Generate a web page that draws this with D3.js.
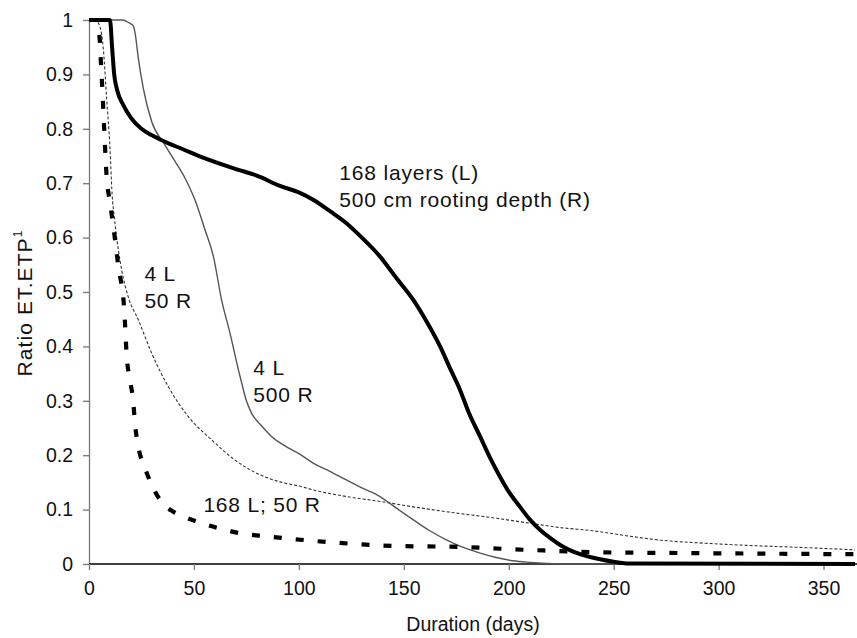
<!DOCTYPE html>
<html>
<head>
<meta charset="utf-8">
<script src="https://cdn.jsdelivr.net/npm/d3@7/dist/d3.min.js"></script>
<style>
  html, body { margin: 0; padding: 0; background: #fff; }
  svg { display: block; font-family: "Liberation Sans", Arial, sans-serif; }
</style>
</head>
<body>
<svg id="chart" width="857" height="638"></svg>
<script>
// ---- data ----
const xTicks = [0, 50, 100, 150, 200, 250, 300, 350];
const yTicks = [0, 0.1, 0.2, 0.3, 0.4, 0.5, 0.6, 0.7, 0.8, 0.9, 1];

// 168 layers (L), 500 cm rooting depth (R)
const series168L500R = [[0,1],[10,1],[11,0.95],[12,0.90],[13.5,0.87],[16.3,0.844],[20,0.82],[25,0.80],[30,0.788],[34.6,0.779],[45,0.762],[55,0.746],[70,0.726],[80,0.714],[91,0.695],[100,0.683],[107,0.669],[115,0.648],[122.8,0.626],[130,0.60],[138.7,0.565],[146,0.528],[154.6,0.485],[161,0.445],[167.3,0.40],[172,0.36],[176.8,0.32],[181,0.278],[186.4,0.234],[191,0.196],[195.9,0.160],[200,0.133],[205.4,0.105],[210,0.082],[215,0.0625],[220,0.047],[224.5,0.035],[234,0.018],[243.6,0.0086],[250,0.004],[256,0.001],[365,0]];
// 4 L, 500 R
const series4L500R = [[0,1],[16,1],[19,0.995],[21,0.99],[22,0.975],[23.5,0.93],[25.9,0.874],[29.9,0.813],[36.2,0.770],[41,0.74],[45.8,0.709],[50.5,0.669],[55.3,0.614],[59.3,0.565],[63.2,0.485],[67.2,0.424],[71.2,0.357],[72.8,0.332],[75,0.30],[77.5,0.277],[82,0.255],[87.1,0.234],[93,0.218],[100,0.203],[107,0.185],[115,0.17],[122.8,0.154],[130,0.14],[138.7,0.124],[146,0.104],[154.6,0.081],[162,0.062],[170.5,0.044],[178,0.031],[186.4,0.020],[194,0.012],[202,0.006],[210,0.003],[218,0.001],[225,0],[365,0]];
// 4 L, 50 R
const series4L50R = [[0,1],[3,1],[5.2,0.988],[6.8,0.948],[8.4,0.856],[10,0.764],[11,0.68],[12,0.64],[14,0.577],[15.6,0.54],[18.7,0.491],[23.5,0.449],[29.9,0.387],[37.8,0.326],[47.3,0.271],[58.5,0.228],[69.6,0.191],[83.9,0.16],[91,0.151],[101.4,0.142],[107,0.136],[122.8,0.124],[138.7,0.115],[154.6,0.105],[170.5,0.096],[194.3,0.084],[210,0.075],[224.5,0.067],[240,0.061],[256,0.052],[272,0.044],[294.4,0.038],[315,0.034],[335.7,0.031],[365,0.026]];
// 168 L, 50 R
const series168L50R = [[0,1],[3,1],[4.5,0.98],[5.2,0.96],[5.7,0.92],[6.3,0.877],[7.3,0.795],[8.4,0.712],[9.8,0.669],[11.2,0.632],[14,0.547],[16.8,0.467],[18,0.381],[19.5,0.338],[21.1,0.298],[21.9,0.259],[23.5,0.216],[26.7,0.176],[31.5,0.133],[35,0.112],[40.2,0.096],[45,0.087],[51.3,0.078],[61.6,0.066],[72.8,0.056],[83.9,0.051],[94.2,0.047],[115,0.040],[130,0.036],[146.7,0.033],[168.7,0.032],[180,0.031],[202,0.027],[223,0.024],[243.6,0.0215],[270,0.0205],[297.6,0.0197],[330,0.0188],[365,0.018]];

const annotations = [
  {lines: ["168 layers (L)", "500 cm rooting depth (R)"], x: 119.3, y: 0.706},
  {lines: ["4 L", "50 R"], x: 26.4, y: 0.52},
  {lines: ["4 L", "500 R"], x: 78.3, y: 0.347},
  {lines: ["168 L; 50 R"], x: 54.5, y: 0.095}
];

// ---- chart ----
const svg = d3.select("#chart");
const x = d3.scaleLinear().domain([0, 365]).range([89, 855]);
const y = d3.scaleLinear().domain([0, 1]).range([564, 20]);

// y axis
const yAxis = svg.append("g").attr("transform", "translate(89,0)")
  .call(d3.axisLeft(y).tickValues(yTicks).tickSize(6).tickSizeOuter(0).tickPadding(10)
    .tickFormat(d => d3.format("")(+d.toFixed(1))));
yAxis.select(".domain").attr("stroke", "#777").attr("stroke-width", 1.3);
yAxis.selectAll(".tick line").attr("stroke", "#777").attr("stroke-width", 1.3);
yAxis.selectAll(".tick text").attr("font-size", 19.5).attr("fill", "#111")
  .attr("font-family", "Liberation Sans, Arial, sans-serif");

// x axis
const xAxis = svg.append("g").attr("transform", "translate(0,564)")
  .call(d3.axisBottom(x).tickValues(xTicks).tickSize(6).tickSizeOuter(0).tickPadding(11));
xAxis.select(".domain").attr("stroke", "#000").attr("stroke-width", 1.6)
  .attr("d", "M89,0H857");
xAxis.selectAll(".tick line").attr("stroke", "#777").attr("stroke-width", 1.3);
xAxis.selectAll(".tick text").attr("font-size", 19.5).attr("fill", "#111")
  .attr("font-family", "Liberation Sans, Arial, sans-serif");

// axis titles
svg.append("text").attr("x", 473).attr("y", 631).attr("text-anchor", "middle")
  .attr("font-size", 19.5).attr("fill", "#111").text("Duration (days)");

const yt = svg.append("text").attr("transform", "translate(32,303) rotate(-90)")
  .attr("text-anchor", "middle").attr("font-size", 21).attr("letter-spacing", 1.1).attr("fill", "#111");
yt.append("tspan").text("Ratio ET.ETP");
yt.append("tspan").attr("font-size", 12).attr("dy", -10).text("1");

const line = d3.line().x(d => x(d[0])).y(d => y(d[1])).curve(d3.curveMonotoneX);

svg.append("path").datum(series4L50R).attr("d", line)
  .attr("fill", "none").attr("stroke", "#333").attr("stroke-width", 1.1)
  .attr("stroke-dasharray", "3,2");
svg.append("path").datum(series4L500R).attr("d", line)
  .attr("fill", "none").attr("stroke", "#555").attr("stroke-width", 1.4);
svg.append("path").datum(series168L50R).attr("d", line)
  .attr("fill", "none").attr("stroke", "#000").attr("stroke-width", 4.2)
  .attr("stroke-dasharray", "8,14");
svg.append("path").datum(series168L500R).attr("d", line)
  .attr("fill", "none").attr("stroke", "#000").attr("stroke-width", 4);

// annotations
annotations.forEach(a => {
  const t = svg.append("text").attr("font-size", 21).attr("letter-spacing", 0.8).attr("fill", "#111");
  a.lines.forEach((l, i) => {
    t.append("tspan").attr("x", x(a.x)).attr("y", y(a.y) + i * 27).text(l);
  });
});
</script>
</body>
</html>
